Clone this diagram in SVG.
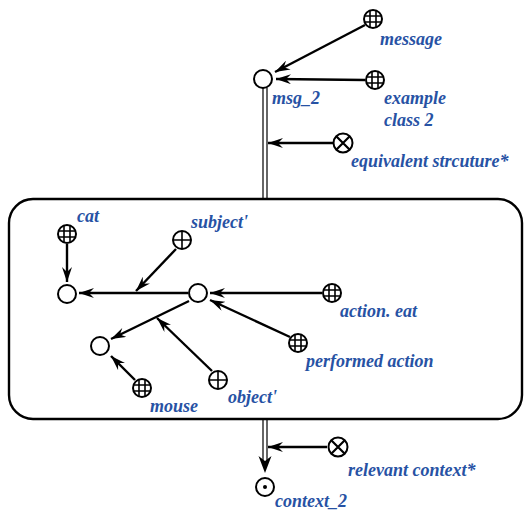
<svg xmlns="http://www.w3.org/2000/svg" xmlns:xlink="http://www.w3.org/1999/xlink" width="525" height="514" viewBox="0 0 525 514">
<style>
.lbl{font-family:"Liberation Serif","Times New Roman",serif;font-weight:bold;font-style:italic;font-size:18px;fill:#2752a4}
.nd{fill:#fff;stroke:#000;stroke-width:2}
.sym{stroke:#000;stroke-width:1.6;fill:none}
.edge{stroke:#000;stroke-width:2.4;fill:none}
.dbl{stroke:#000;stroke-width:1.2;fill:none}
.box{fill:none;stroke:#000;stroke-width:2.4}
</style>
<defs>
<marker id="ah" viewBox="0 0 12 8" refX="12" refY="4" markerWidth="15" markerHeight="10" markerUnits="userSpaceOnUse" orient="auto">
<path d="M0,0 L12,4 L0,8 L4,4 z" fill="#000"/>
</marker>
<g id="grid">
<circle r="9" class="nd"/>
<path class="sym" d="M-3,-8.5 V8.5 M3,-8.5 V8.5 M-8.5,-3 H8.5 M-8.5,3 H8.5"/>
</g>
<g id="plus">
<circle r="9" class="nd"/>
<path class="sym" d="M0,-9 V9 M-9,0 H9"/>
</g>
<g id="times">
<circle r="9.5" class="nd"/>
<path class="sym" d="M-6.5,-6.5 L6.5,6.5 M-6.5,6.5 L6.5,-6.5" style="stroke-width:2.2"/>
</g>
</defs>

<rect class="box" x="9" y="199" width="513" height="220" rx="24" ry="24"/>

<g id="connectors">
<path class="edge" d="M365,25 L275,72" marker-end="url(#ah)"/>
<path class="edge" d="M365,80 L276,79" marker-end="url(#ah)"/>
<path class="dbl" d="M263,88 V199 M267,88 V199"/>
<path class="edge" d="M333,143 L268,143" marker-end="url(#ah)"/>
<path class="edge" d="M67,244 V282" marker-end="url(#ah)"/>
<path class="edge" d="M188,293 L79,293" marker-end="url(#ah)"/>
<path class="edge" d="M176,249 L136,291" marker-end="url(#ah)"/>
<path class="edge" d="M322,293 L210,293" marker-end="url(#ah)"/>
<path class="edge" d="M290,337 L210,300" marker-end="url(#ah)"/>
<path class="edge" d="M189,301 L111,339" marker-end="url(#ah)"/>
<path class="edge" d="M212,371 L157,318" marker-end="url(#ah)"/>
<path class="edge" d="M135,380 L111,356" marker-end="url(#ah)"/>
<path class="dbl" d="M263,419 V460 M267,419 V460"/>
<path d="M258.5,456 L265,473 L271.5,456 L265,461 z" fill="#000"/>
<path class="edge" d="M327,447 L268,447" marker-end="url(#ah)"/>
</g>

<g id="msg_2"><circle cx="263" cy="79" r="9" class="nd"/><text class="lbl" x="272" y="104">msg_2</text></g>
<g id="message"><use xlink:href="#grid" x="373" y="19"/><text class="lbl" x="380" y="45">message</text></g>
<g id="example_class_2"><use xlink:href="#grid" x="375" y="80"/><text class="lbl" x="384" y="104">example</text><text class="lbl" x="384" y="126">class 2</text></g>
<g id="equivalent"><use xlink:href="#times" x="343" y="143"/><text class="lbl" x="351" y="167">equivalent strcuture*</text></g>

<g id="cat"><use xlink:href="#grid" x="67" y="234"/><text class="lbl" x="77" y="222">cat</text></g>
<g id="cat_node"><circle cx="67" cy="294" r="9" class="nd"/></g>
<g id="subject"><use xlink:href="#plus" x="182" y="240"/><text class="lbl" x="191" y="228">subject'</text></g>
<g id="center"><circle cx="198" cy="293" r="9" class="nd"/></g>
<g id="action_eat"><use xlink:href="#grid" x="332" y="293"/><text class="lbl" x="340" y="317">action. eat</text></g>
<g id="performed_action"><use xlink:href="#grid" x="298" y="343"/><text class="lbl" x="306" y="367">performed action</text></g>
<g id="mouse_node"><circle cx="100" cy="346" r="9" class="nd"/></g>
<g id="object"><use xlink:href="#plus" x="218" y="380"/><text class="lbl" x="228" y="403">object'</text></g>
<g id="mouse"><use xlink:href="#grid" x="142" y="388"/><text class="lbl" x="150" y="412">mouse</text></g>

<g id="relevant"><use xlink:href="#times" x="338" y="447"/><text class="lbl" x="348" y="476">relevant context*</text></g>
<g id="context_2"><circle cx="265" cy="487" r="9" class="nd"/><circle cx="265" cy="487" r="2" fill="#000"/><text class="lbl" x="275" y="507">context_2</text></g>
</svg>
